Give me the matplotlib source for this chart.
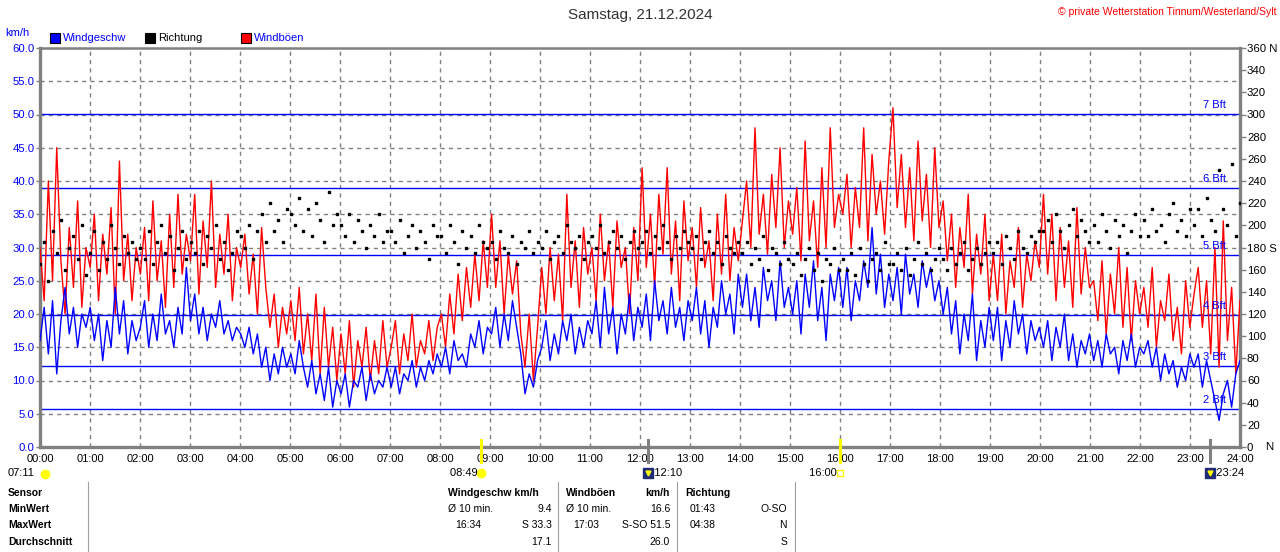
import numpy as np
import matplotlib.pyplot as plt
import matplotlib.transforms as mtransforms
from matplotlib.patches import Rectangle
from matplotlib.lines import Line2D

plt.rcParams['font.family'] = ['Liberation Sans', 'DejaVu Sans']

W, H = 1280, 552


def fx(x):
    return x / W


def fy(y):
    return 1 - y / H


# Windgeschwindigkeit km/h, 5-Minuten-Werte, eine Zeile je Stunde
speed_h = [
    [16, 21, 14, 22, 11, 19, 24, 17, 21, 15, 20, 18],
    [21, 16, 20, 13, 19, 15, 24, 17, 22, 14, 19, 16],
    [18, 22, 15, 20, 16, 23, 17, 19, 15, 21, 17, 27],
    [19, 23, 17, 21, 16, 20, 18, 22, 17, 19, 16, 18],
    [17, 15, 18, 14, 17, 12, 15, 10, 14, 11, 15, 12],
    [14, 11, 16, 12, 9, 13, 8, 11, 7, 12, 6, 10],
    [8, 11, 6, 10, 9, 12, 7, 11, 8, 10, 9, 12],
    [9, 12, 8, 11, 10, 13, 9, 12, 10, 13, 11, 14],
    [12, 15, 11, 16, 13, 14, 12, 17, 15, 19, 14, 18],
    [17, 21, 15, 20, 16, 22, 18, 14, 8, 11, 9, 13],
    [15, 19, 13, 17, 14, 19, 16, 20, 14, 18, 15, 19],
    [17, 22, 15, 24, 17, 21, 14, 20, 17, 23, 16, 21],
    [18, 23, 16, 25, 19, 22, 17, 24, 18, 21, 16, 22],
    [19, 24, 17, 22, 15, 21, 18, 25, 20, 23, 17, 26],
    [21, 26, 19, 24, 18, 27, 22, 25, 19, 28, 21, 24],
    [20, 25, 17, 26, 21, 28, 19, 24, 16, 26, 22, 27],
    [21, 27, 19, 25, 22, 28, 24, 33, 23, 29, 21, 26],
    [22, 27, 20, 29, 23, 26, 21, 28, 24, 27, 22, 25],
    [20, 24, 17, 22, 14, 20, 16, 23, 13, 19, 15, 21],
    [16, 21, 13, 19, 15, 22, 17, 20, 14, 19, 16, 18],
    [15, 19, 13, 18, 15, 20, 13, 17, 12, 16, 14, 17],
    [13, 16, 12, 17, 14, 15, 11, 16, 13, 17, 12, 15],
    [14, 16, 12, 15, 10, 14, 11, 13, 9, 12, 10, 14],
    [12, 14, 9, 13, 10, 7, 4, 8, 10, 6, 11, 13],
]

# Windböen km/h
gust_h = [
    [30, 22, 40, 25, 45, 28, 20, 33, 24, 37, 21, 30],
    [27, 35, 22, 32, 26, 36, 20, 43, 25, 32, 22, 30],
    [26, 33, 22, 37, 25, 31, 21, 35, 24, 38, 26, 32],
    [28, 38, 23, 34, 27, 40, 24, 32, 26, 35, 22, 30],
    [27, 32, 23, 29, 20, 33, 24, 18, 23, 15, 21, 17],
    [22, 16, 24, 14, 20, 13, 23, 11, 21, 12, 18, 10],
    [17, 11, 19, 9, 16, 12, 18, 10, 16, 11, 19, 12],
    [15, 19, 11, 17, 13, 20, 12, 16, 14, 19, 13, 18],
    [20, 15, 23, 17, 26, 19, 27, 21, 29, 22, 31, 24],
    [35, 24, 31, 20, 29, 23, 28, 17, 12, 20, 10, 18],
    [27, 20, 30, 22, 29, 19, 38, 24, 31, 21, 33, 26],
    [30, 22, 35, 25, 31, 21, 34, 27, 30, 20, 33, 25],
    [42, 27, 35, 24, 38, 29, 42, 26, 34, 22, 37, 28],
    [33, 24, 36, 27, 31, 22, 35, 26, 38, 25, 33, 28],
    [34, 40, 30, 48, 32, 38, 29, 41, 33, 45, 30, 37],
    [32, 39, 28, 46, 31, 37, 27, 42, 30, 48, 33, 38],
    [35, 41, 30, 39, 33, 48, 31, 44, 35, 40, 32, 43],
    [51, 36, 44, 33, 42, 31, 46, 34, 41, 30, 45, 33],
    [37, 28, 35, 24, 33, 27, 38, 23, 32, 26, 35, 22],
    [29, 22, 32, 20, 28, 24, 33, 21, 29, 25, 31, 27],
    [38, 26, 35, 22, 33, 24, 31, 21, 36, 23, 30, 24],
    [25, 19, 28, 17, 26, 20, 30, 18, 27, 16, 25, 20],
    [24, 18, 27, 15, 22, 19, 26, 16, 21, 14, 25, 18],
    [23, 27, 18, 25, 14, 30, 12, 34, 16, 24, 11, 22],
]

# Windrichtung in Grad
dir_h = [
    [165, 185, 150, 195, 175, 205, 160, 180, 190, 170, 200, 155],
    [175, 195, 160, 185, 170, 200, 180, 165, 190, 175, 185, 170],
    [180, 170, 195, 165, 185, 200, 175, 190, 160, 180, 195, 170],
    [185, 175, 195, 165, 190, 180, 200, 170, 185, 160, 175, 195],
    [190, 180, 200, 170, 195, 210, 185, 220, 195, 205, 185, 215],
    [210, 200, 225, 195, 215, 190, 220, 205, 185, 230, 200, 210],
    [200, 190, 210, 185, 205, 195, 180, 200, 190, 210, 185, 195],
    [195, 185, 205, 175, 190, 200, 180, 195, 185, 170, 200, 190],
    [190, 175, 200, 185, 165, 195, 180, 190, 175, 200, 185, 180],
    [185, 170, 195, 180, 175, 190, 165, 185, 180, 195, 175, 185],
    [180, 195, 170, 185, 190, 175, 200, 185, 180, 190, 170, 185],
    [190, 180, 200, 175, 185, 195, 180, 190, 170, 185, 195, 180],
    [185, 195, 175, 190, 180, 200, 185, 170, 190, 180, 195, 185],
    [180, 190, 170, 185, 195, 175, 185, 165, 190, 180, 175, 185],
    [175, 185, 165, 180, 170, 190, 160, 180, 175, 165, 185, 170],
    [165, 175, 155, 170, 180, 160, 175, 150, 170, 165, 180, 160],
    [170, 160, 175, 155, 180, 165, 150, 170, 175, 160, 185, 165],
    [165, 175, 160, 180, 155, 170, 185, 165, 175, 160, 170, 180],
    [170, 160, 180, 165, 175, 185, 160, 170, 180, 165, 175, 185],
    [175, 185, 165, 190, 180, 170, 195, 180, 175, 190, 185, 195],
    [195, 205, 185, 210, 195, 180, 200, 215, 190, 205, 195, 185],
    [200, 185, 210, 195, 180, 205, 190, 200, 175, 195, 210, 190],
    [205, 190, 215, 195, 200, 185, 210, 220, 195, 205, 190, 215],
    [200, 215, 190, 225, 205, 195, 250, 215, 200, 255, 190, 220],
]

bft_levels = [5.76, 12.24, 19.8, 28.8, 38.88, 50.04]
bft_labels = ['2 Bft', '3 Bft', '4 Bft', '5 Bft', '6 Bft', '7 Bft']

# Sonne/Mond: Zeit, Text, Farbe Markierung
events = [(8 + 49 / 60, '08:49', '#ffff00'), (12 + 10 / 60, '12:10', '#808080'),
          (16.0, '16:00', '#ffff00'), (23 + 24 / 60, '23:24', '#808080')]

speed = np.concatenate(speed_h)
gust = np.concatenate(gust_h)
direction = np.concatenate(dir_h)
t = np.linspace(0, 24, len(speed))

fig = plt.figure(figsize=(W / 100, H / 100), dpi=100)
ax = fig.add_axes([fx(40), fy(447), 1200 / W, 399 / H])

ax.plot(t, gust, color='#ff0000', lw=1.0, zorder=3)
ax.plot(t, speed, color='#0000ff', lw=1.0, zorder=4)

for lv, lb in zip(bft_levels, bft_labels):
    ax.axhline(lv, color='#0000ff', lw=1.0, zorder=2)
    ax.text(23.72, lv + 0.6, lb, color='#0000ff', fontsize=8, ha='right',
            va='bottom', zorder=6)

ax.set_xlim(0, 24)
ax.set_ylim(0, 60)
ax.set_xticks(range(25))
ax.set_xticklabels(['%02d:00' % h for h in range(25)], fontsize=8)
ax.set_yticks(np.arange(0, 61, 5))
ax.set_yticklabels(['%.1f' % v for v in np.arange(0, 61, 5)], fontsize=8.2,
                   color='#0000ff')
ax.tick_params(axis='x', length=0, pad=5)
ax.tick_params(axis='y', length=3, width=1, color='#808080', pad=1)
ax.grid(True, color='#808080', linestyle=(0, (3, 3)), lw=1.0, zorder=1)
for side in ['left', 'bottom', 'right']:
    ax.spines[side].set_color('#808080')
    ax.spines[side].set_linewidth(2.4)
ax.spines['top'].set_color('#808080')
ax.spines['top'].set_linewidth(1.8)

ax2 = ax.twinx()
ax2.plot(t, direction, linestyle='none', marker='s', markersize=2.0,
         color='black')
ax2.set_ylim(0, 360)
ax2.set_yticks(range(0, 361, 20))
dlabels = []
for d in range(0, 361, 20):
    if d == 360:
        dlabels.append('360 N')
    elif d == 180:
        dlabels.append('180 S')
    else:
        dlabels.append(str(d))
ax2.set_yticklabels(dlabels, fontsize=8.2)
ax2.tick_params(axis='y', length=4, width=1, color='#808080', pad=1)
for s in ax2.spines.values():
    s.set_visible(False)
fig.text(fx(1265), fy(447), 'N', fontsize=8.2, va='center')

# Kopf
fig.text(0.5, fy(15), 'Samstag, 21.12.2024', fontsize=11, ha='center',
         va='center', color='#333333')
fig.text(fx(1276), fy(12), '\u00a9 private Wetterstation Tinnum/Westerland/Sylt',
         fontsize=7.5, ha='right', va='center', color='#ff0000')
fig.text(fx(5), fy(33), 'km/h', fontsize=8, color='#0000ff', va='center')

legend = [(50, '#0000ff', 'Windgeschw', '#0000ff'),
          (145, '#000000', 'Richtung', '#000000'),
          (241, '#ff0000', 'Windböen', '#0000ff')]
for x0, fc, lb, tc in legend:
    fig.add_artist(Rectangle((fx(x0), fy(43)), 10 / W, 10 / H,
                             transform=fig.transFigure, facecolor=fc,
                             edgecolor='black', lw=0.8))
    fig.text(fx(x0 + 13), fy(38), lb, fontsize=8, color=tc, va='center')

# Sonne und Mond unter der Zeitachse
tr = mtransforms.blended_transform_factory(ax.transData, fig.transFigure)
for te, lb, col in events:
    fig.add_artist(Line2D([te, te], [fy(440), fy(462)], transform=tr,
                          color=col, lw=2.2))
    if col == '#ffff00':
        fig.text(te, fy(473), lb + ' ', transform=tr, ha='right',
                 va='center', fontsize=8)
        mk = 'o' if lb == '08:49' else 's'
        fig.add_artist(Line2D([te], [fy(473)], transform=tr, marker=mk,
                              markersize=6 if mk == 'o' else 4,
                              markerfacecolor='#ffff00' if mk == 'o' else 'none',
                              markeredgecolor='#ffff00', linestyle='none'))
    else:
        fig.add_artist(Rectangle((fx(1), fy(479)), 8 / W, 12 / H,
                                 transform=fig.transFigure, alpha=0))
        fig.text(te, fy(473), '  ' + lb, transform=tr, ha='left',
                 va='center', fontsize=8)
        fig.add_artist(Line2D([te], [fy(473)], transform=tr, marker='s',
                              markersize=7, markerfacecolor='#1f2a78',
                              markeredgecolor='#1f2a78', linestyle='none'))
        fig.add_artist(Line2D([te], [fy(473)], transform=tr, marker='v',
                              markersize=3.5, markerfacecolor='#ffff00',
                              markeredgecolor='#ffff00', linestyle='none'))
fig.text(fx(8), fy(473), '07:11', fontsize=8, va='center')
fig.add_artist(Line2D([fx(45)], [fy(474)], transform=fig.transFigure,
                      marker='o', markersize=6, markerfacecolor='#ffff00',
                      markeredgecolor='#ffff00', linestyle='none'))

# Tabelle
for xv in [88, 558, 677, 795]:
    fig.add_artist(Line2D([fx(xv), fx(xv)], [fy(482), fy(552)],
                          transform=fig.transFigure, color='#a0a0a0', lw=0.8))

rows_y = [493, 509, 525, 542]
row_names = ['Sensor', 'MinWert', 'MaxWert', 'Durchschnitt']
for yv, nm in zip(rows_y, row_names):
    fig.text(fx(8), fy(yv), nm, fontsize=7.5, fontweight='bold', va='center')

cells = [
    (448, 493, 'Windgeschw km/h', 'left', 'bold'),
    (448, 509, '\u00d8 10 min.', 'left', 'normal'),
    (552, 509, '9.4', 'right', 'normal'),
    (455, 525, '16:34', 'left', 'normal'),
    (552, 525, 'S 33.3', 'right', 'normal'),
    (552, 542, '17.1', 'right', 'normal'),
    (566, 493, 'Windböen', 'left', 'bold'),
    (670, 493, 'km/h', 'right', 'bold'),
    (566, 509, '\u00d8 10 min.', 'left', 'normal'),
    (670, 509, '16.6', 'right', 'normal'),
    (573, 525, '17:03', 'left', 'normal'),
    (670, 525, 'S-SO 51.5', 'right', 'normal'),
    (670, 542, '26.0', 'right', 'normal'),
    (685, 493, 'Richtung', 'left', 'bold'),
    (690, 509, '01:43', 'left', 'normal'),
    (787, 509, 'O-SO', 'right', 'normal'),
    (690, 525, '04:38', 'left', 'normal'),
    (787, 525, 'N', 'right', 'normal'),
    (787, 542, 'S', 'right', 'normal'),
]
for xv, yv, txt, ha, fw in cells:
    fig.text(fx(xv), fy(yv), txt, fontsize=7.5, fontweight=fw, ha=ha,
             va='center')

fig.savefig('out.png', dpi=100)
